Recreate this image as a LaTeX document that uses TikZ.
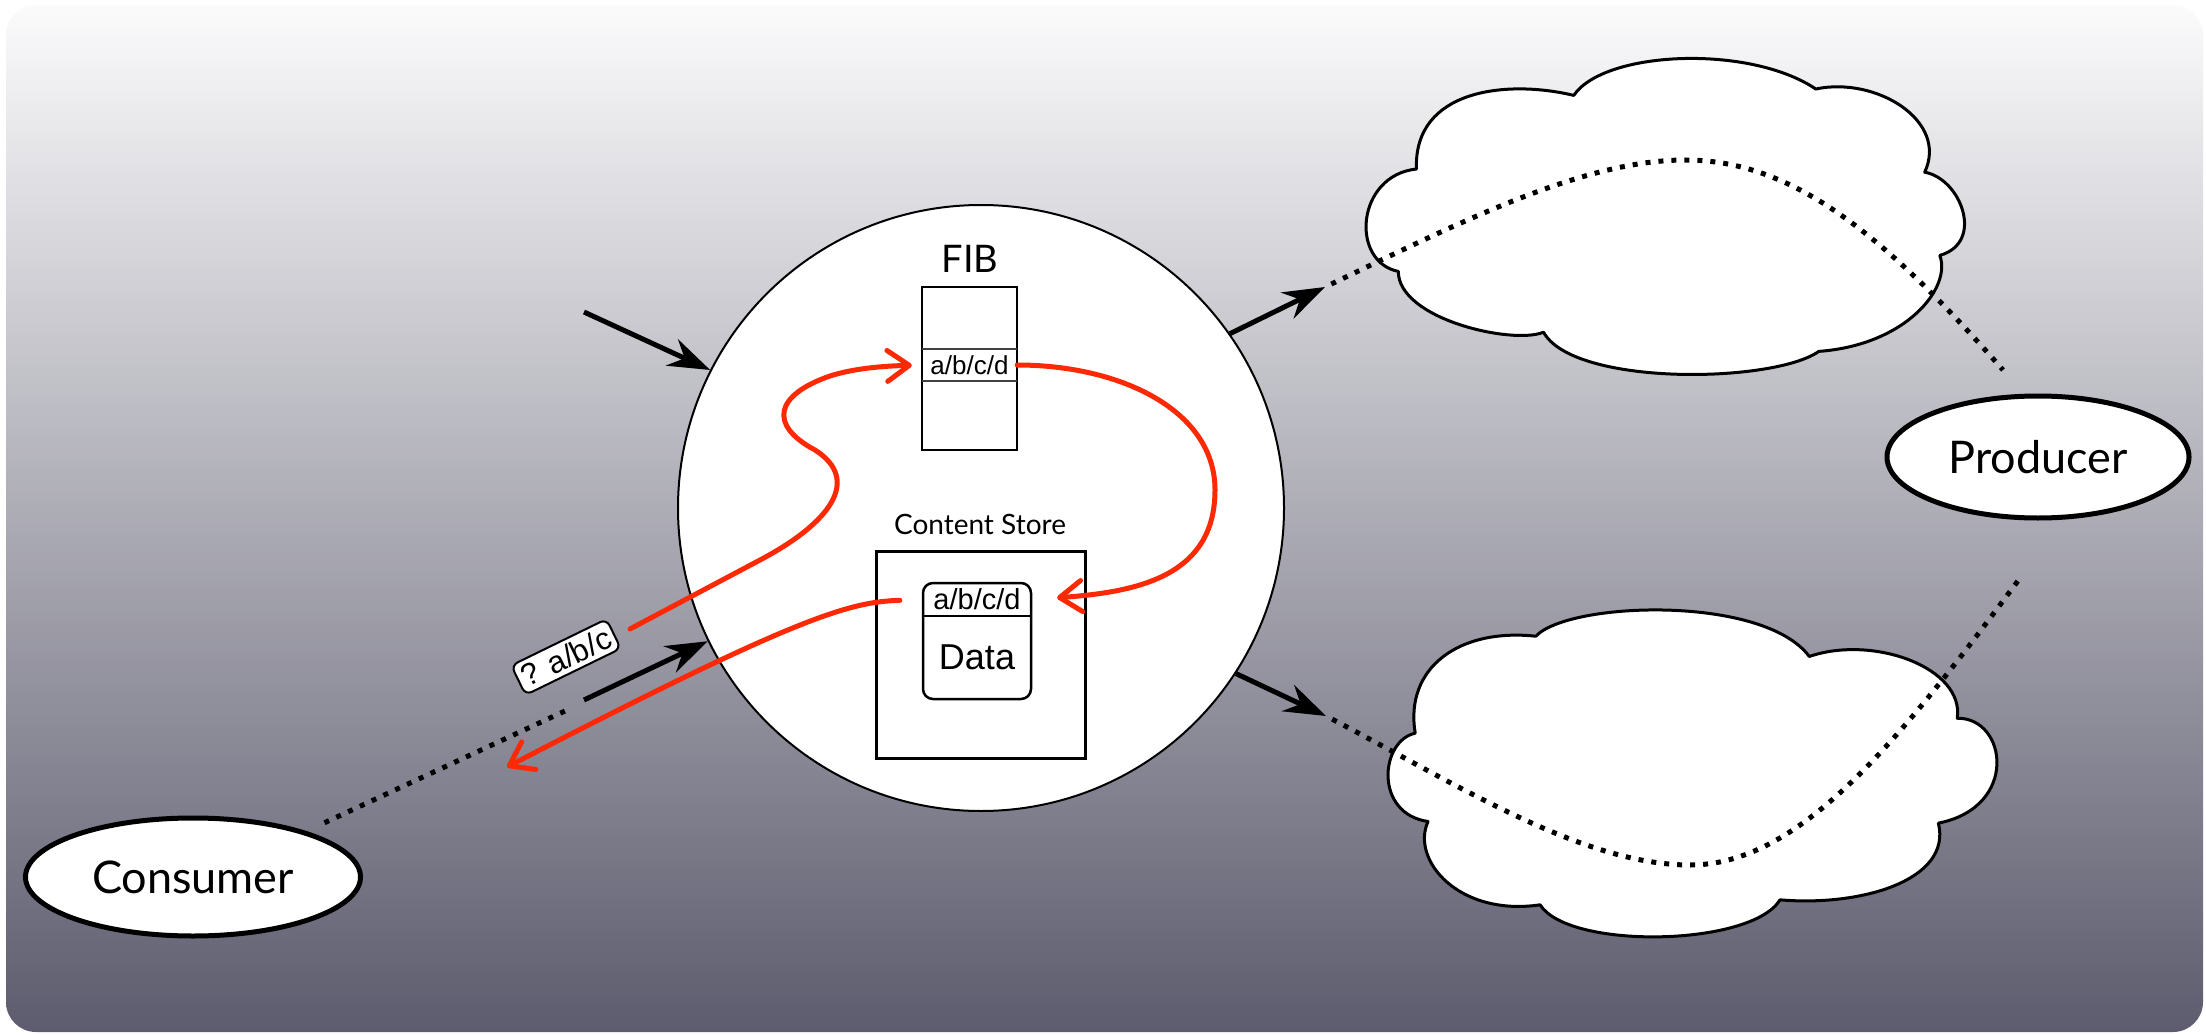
\documentclass[tikz,border=0pt]{standalone}
\usepackage{fontspec}
\setmainfont{Lato}
\newfontfamily\helv{Liberation Sans}
\usetikzlibrary{arrows.meta,shapes.geometric}

\definecolor{bgtop}{RGB}{251,251,252}
\definecolor{bgbot}{RGB}{93,92,110}
\definecolor{flowred}{RGB}{253,40,4}

\tikzset{
  redflow/.style={draw=flowred, line width=5pt, line cap=round,
    -{Straight Barb[length=22pt,width=31pt,round]}},
  push/.style={line width=5pt, -{Stealth[length=42pt,width=29pt,inset=14pt]}},
  dotline/.style={line width=5pt, dash pattern=on 5pt off 8pt, line cap=butt},
  cloudline/.style={draw=black, fill=white, line width=3pt, line join=round},
  endpoint/.style={ellipse, draw, fill=white, line width=5pt, inner sep=0pt},
  tablebox/.style={draw, fill=white, inner sep=0pt},
  rowline/.style={line width=1.6pt, draw=black!75},
  bigname/.style={font=\fontsize{45}{45}\selectfont},
  tag/.style={draw, fill=white, line width=2pt, rounded corners=7pt, rotate=26,
    inner xsep=5pt, inner ysep=5pt, font=\helv\fontsize{31}{31}\selectfont}
}

\begin{document}
\begin{tikzpicture}[x=1pt,y=-1pt]
\useasboundingbox (0,0) rectangle (2206,1035);
\fill[white] (0,0) rectangle (2206,1035);
\shade[top color=bgtop, bottom color=bgbot, rounded corners=30pt] (6,5) rectangle (2203,1032);

% upper network cloud
\begin{scope}[shift={(1362,57)}, x=605pt, y=-320pt]
  \path[cloudline] (0.09,0.35)
    .. controls (0.085,0.10) and (0.24,0.07) .. (0.35,0.12)
    .. controls (0.40,-0.02) and (0.64,-0.04) .. (0.75,0.10)
    .. controls (0.85,0.06) and (0.97,0.20) .. (0.93,0.36)
    .. controls (0.99,0.38) and (1.03,0.58) .. (0.955,0.62)
    .. controls (0.975,0.72) and (0.90,0.90) .. (0.755,0.92)
    .. controls (0.68,1.02) and (0.35,1.03) .. (0.30,0.86)
    .. controls (0.25,0.90) and (0.06,0.82) .. (0.06,0.67)
    .. controls (-0.02,0.64) and (-0.01,0.37) .. (0.09,0.35) -- cycle;
\end{scope}

% lower network cloud
\begin{scope}[shift={(1386,608)}, x=609pt, y=-332pt]
  \path[cloudline] (0.048,0.377)
    .. controls (0.03,0.18) and (0.12,0.06) .. (0.246,0.085)
    .. controls (0.30,-0.02) and (0.62,-0.04) .. (0.695,0.146)
    .. controls (0.80,0.08) and (0.95,0.18) .. (0.938,0.332)
    .. controls (1.02,0.33) and (1.04,0.60) .. (0.907,0.648)
    .. controls (0.93,0.82) and (0.78,0.90) .. (0.647,0.879)
    .. controls (0.60,1.02) and (0.30,1.03) .. (0.253,0.894)
    .. controls (0.12,0.93) and (0.04,0.76) .. (0.069,0.643)
    .. controls (-0.02,0.62) and (-0.01,0.40) .. (0.048,0.377) -- cycle;
\end{scope}

% the router
\node[circle, draw, fill=white, line width=2pt, inner sep=0pt, minimum size=606pt] (router) at (981,508) {};

% forwarding table
\node[font=\fontsize{38}{38}\selectfont] (fibname) at (970,259) {FIB};
\node[tablebox, line width=2.5pt, minimum width=95pt, minimum height=163pt] (fib) at (969.5,368.5) {};
\node[inner sep=0pt, minimum width=95pt, minimum height=32pt, font=\helv\fontsize{26}{26}\selectfont] (fibrow) at (969.5,365) {a/b/c/d};
\draw[rowline] (fibrow.north west) -- (fibrow.north east) (fibrow.south west) -- (fibrow.south east);

% content store
\node[font=\fontsize{28}{28}\selectfont] (csname) at (980,524) {Content Store};
\node[tablebox, line width=3pt, minimum width=209pt, minimum height=207pt] (cs) at (980.5,654.5) {};
\node[tablebox, line width=2.5pt, rounded corners=10pt, minimum width=108pt, minimum height=116pt] (entry) at (977,641) {};
\node[inner sep=0pt, minimum width=108pt, minimum height=33pt, font=\helv\fontsize{29}{29}\selectfont] (csentry) at (977,599.5) {a/b/c/d};
\draw[line width=1.5pt] (csentry.south west) -- (csentry.south east);
\node[font=\helv\fontsize{36}{36}\selectfont] (data) at (977,657) {Data};

% end hosts
\node[endpoint, bigname, minimum width=335pt, minimum height=118pt] (consumer) at (193,877) {Consumer};
\node[endpoint, bigname, minimum width=302pt, minimum height=122pt] (producer) at (2038,457) {Producer};

% free ends of the links
\coordinate (inA) at (584,312);
\coordinate (inB) at (584,700);
\coordinate (outA) at (1325,287);
\coordinate (outB) at (1326,716);
\coordinate (upEnd) at (2003,370);
\coordinate (lowEnd) at (2020,578);
\coordinate (consEnd) at (565,711);
\coordinate (qStart) at (630,629);
\coordinate (dOut) at (507,767);

% dotted links
\draw[dotline, shorten <=20pt] (consumer.22) -- (consEnd);
\draw[dotline, dash phase=6pt] (outA) .. controls (1451,227) and (1580,160) .. (1685,160)
  .. controls (1790,160) and (1880,230) .. (upEnd);
\draw[dotline, dash phase=6pt] (outB) .. controls (1450,780) and (1580,865) .. (1690,865)
  .. controls (1800,865) and (1900,740) .. (lowEnd);

% faces of the router
\draw[push] (inA) -- (router.153);
\draw[push] (inB) -- (router.206);
\draw[push] (router.35) -- (outA);
\draw[push] (router.-33) -- (outB);

% interest and data flow
\draw[redflow, shorten >=10pt] (qStart) -- (760,560)
  .. controls (830,523) and (862,480) .. (815,450)
  .. controls (768,425) and (775,395) .. (830,376)
  .. controls (855,368) and (885,366) .. (fibrow.west);
\draw[redflow, shorten >=26pt] (fibrow.east)
  .. controls (1120,365) and (1215,410) .. (1215,490)
  .. controls (1215,575) and (1140,592) .. (csentry.east);
\draw[redflow, shorten <=23pt] (csentry.west)
  .. controls (850,602) and (800,615) .. (dOut);

% interest name
\node[tag] (query) at (566,657) {? a/b/c};
\end{tikzpicture}
\end{document}
